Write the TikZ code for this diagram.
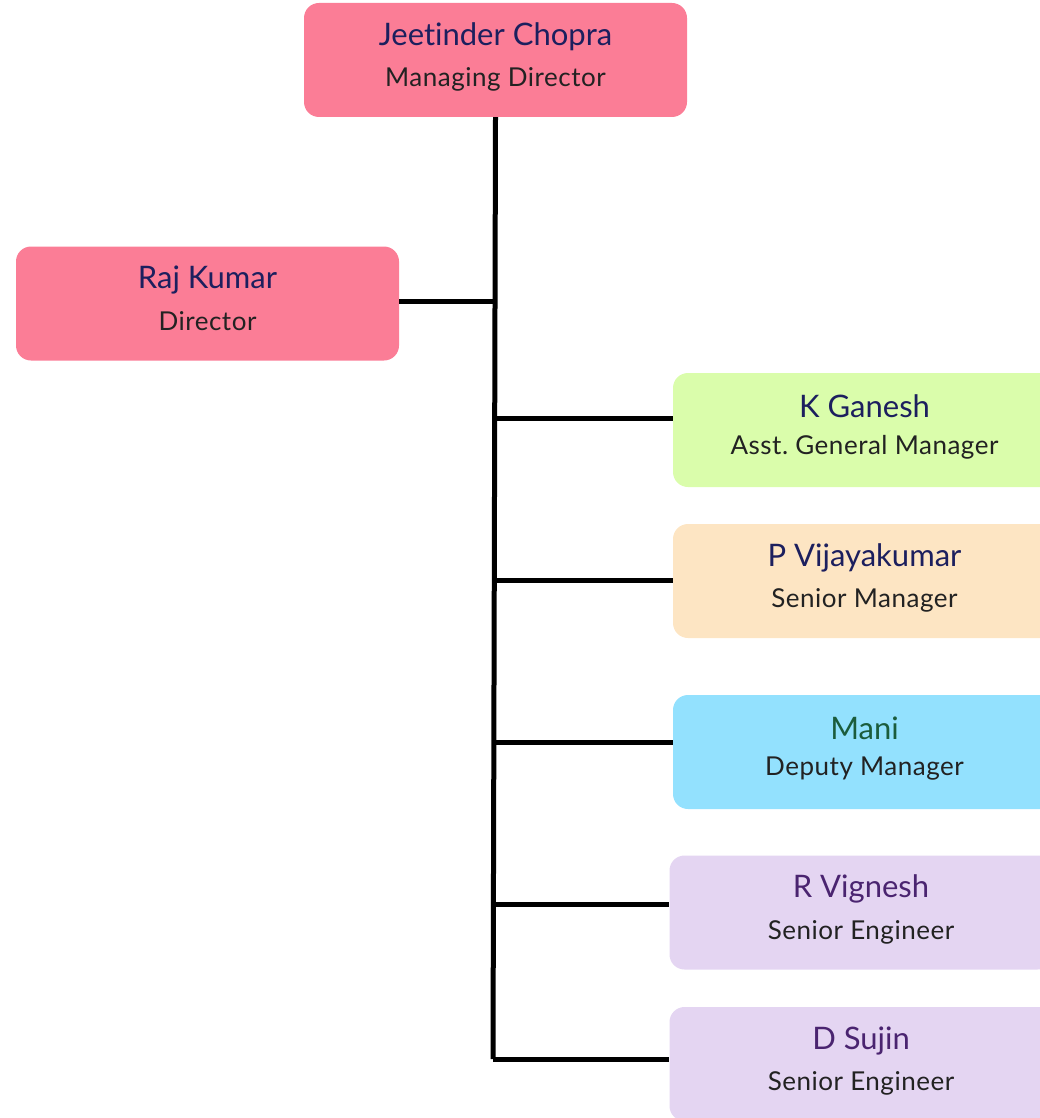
\documentclass[tikz,border=0pt]{standalone}
\usepackage{fontspec}
\setmainfont{Lato}[Ligatures=NoCommon]
\usepackage{tikz}

\definecolor{mdpink}{HTML}{FB7D96}
\definecolor{agmgreen}{HTML}{DAFDAB}
\definecolor{smorange}{HTML}{FDE5C3}
\definecolor{dmblue}{HTML}{93E1FE}
\definecolor{selilac}{HTML}{E4D5F2}
\definecolor{namenavy}{HTML}{1C1F5E}
\definecolor{namegreen}{HTML}{1B5C3C}
\definecolor{namepurple}{HTML}{4A2470}
\definecolor{titlegray}{HTML}{222222}

\newcommand{\person}[3]{{\fontsize{31}{34}\selectfont\color{#1}#2}\\[16pt]{\fontsize{26}{30}\selectfont\addfontfeature{LetterSpace=2}\color{titlegray}#3}\rule[-11pt]{0pt}{11pt}}

\tikzset{
  post/.style={rounded corners=15pt, minimum width=383pt, minimum height=114pt,
    inner sep=0pt, align=center, fill=#1},
  link/.style={line width=5pt}
}

\begin{document}
\begin{tikzpicture}[x=1pt,y=-1pt]
\useasboundingbox (0,0) rectangle (1040,1118);
\clip (0,0) rectangle (1040,1118);
% boxes
\node[post=mdpink] (md) at (495.5,60) {\person{namenavy}{Jeetinder Chopra}{Managing Director}};
\node[post=mdpink] (dir) at (207.5,303.5) {\person{namenavy}{Raj Kumar}{Director}};
\node[post=agmgreen] (agm) at (864.5,430) {\person{namenavy}{K Ganesh}{Asst.\ General Manager}};
\node[post=smorange] (sm) at (864.5,581) {\person{namenavy}{P Vijayakumar}{Senior Manager}};
\node[post=dmblue] (dm) at (864.5,752) {\person{namegreen}{Mani}{Deputy Manager}};
\node[post=selilac] (se1) at (861,912.5) {\person{namepurple}{R Vignesh}{Senior Engineer}};
\node[post=selilac] (se2) at (861,1064) {\person{namepurple}{D Sujin}{Senior Engineer}};
% trunk
\coordinate (bus) at (493,1059);
\draw[link] (md.south) -- (bus);
\draw[link] (dir.east |- 0,301) -- (495,301);
\foreach \who/\y in {agm/418, sm/580, dm/742, se1/904}
  \draw[link] (494,\y) -- (\who.west |- 0,\y);
\draw[link] (bus) -- (se2.west |- bus);
\end{tikzpicture}
\end{document}
